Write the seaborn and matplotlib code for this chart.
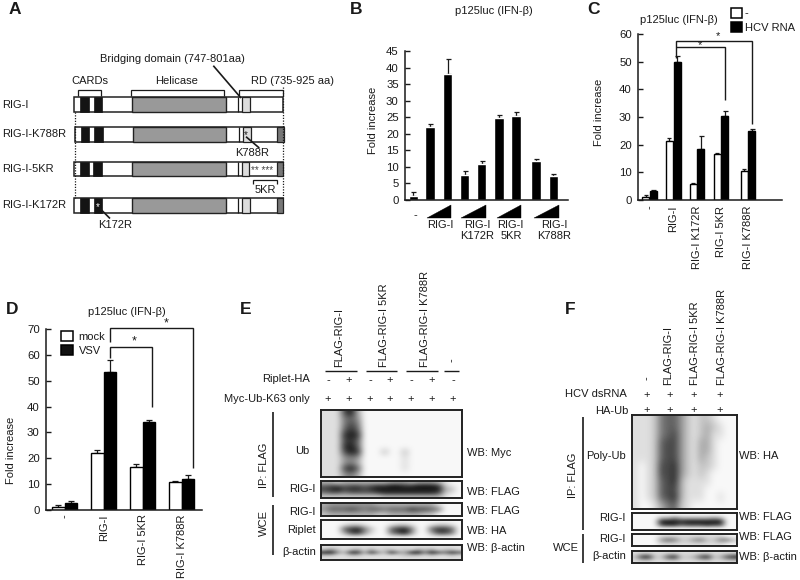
import numpy as np
import pandas as pd
import matplotlib
matplotlib.use("Agg")
import matplotlib.pyplot as plt
from matplotlib.patches import Rectangle, Polygon, Patch
import seaborn as sns

# ---------- data ----------
b_pos = [0, 0.98, 2.01, 3.0, 4.0, 5.0, 6.0, 7.17, 8.18]
b_vals = [1.2, 22, 38.2, 7.5, 11, 24.8, 25.4, 11.7, 7.2]
b_tops = [2.4, 22.9, 42.7, 8.9, 11.9, 25.6, 26.6, 12.4, 8.0]

c_labels = ["-", "RIG-I", "RIG-I K172R", "RIG-I 5KR", "RIG-I K788R"]
c_pos = [0, 1, 2, 3, 4.13]
c_white = [1.0, 21.5, 5.8, 16.5, 10.5]
c_white_top = [1.7, 22.4, 6.1, 17.1, 11.1]
c_black = [3.3, 50, 18.5, 30.2, 25]
c_black_top = [3.6, 52, 23, 32, 25.8]

d_labels = ["-", "RIG-I", "RIG-I 5KR", "RIG-I K788R"]
d_pos = [0, 1, 2, 3]
d_white = [1.0, 22, 16.5, 10.7]
d_white_top = [2.1, 23.3, 17.9, 11.2]
d_black = [2.7, 53.3, 34, 12]
d_black_top = [3.5, 58, 35, 13.5]

a_rows = ["RIG-I", "RIG-I-K788R", "RIG-I-5KR", "RIG-I-K172R"]

e_signs_riplet = ["-", "+", "-", "+", "-", "+", "-"]
e_signs_myc = ["+"] * 7

# blot darkness, one digit per cell
e_ub = ["111793000000000000000",
        "111564000000000000000",
        "111575000000000000000",
        "111686000000000000000",
        "111898000000000000000",
        "111786000000000000000",
        "111896000000000000000",
        "111798000200200000000",
        "111454000000100000000",
        "111453000000100000000",
        "111796000000100000000",
        "111453000000000000000"]
e_rig = ["332333333344434443100",
         "677677678899889998210",
         "789788789999999999320",
         "566566667888888887210",
         "222222222333333333100"]
e_wce = ["344444443333333331000",
         "466676566566687765000",
         "233333332233333220000"]
e_riplet = ["000000000000000000000",
            "000122100012210012210",
            "000689520068950068860",
            "000378410057940037750",
            "000000000000000000000"]
e_actin = ["111111111111111111111",
           "242123131221213231221",
           "894288284284389496586",
           "221122111111222121121",
           "111111111111111111111"]
f_ub = ["1112566421221000",
        "1112566421232100",
        "1112567421231100",
        "1112677421331000",
        "1112677421331000",
        "1112677421321000",
        "1012778421221000",
        "1012778421210000",
        "1012678311110000",
        "1012677311100000",
        "1012678311100100",
        "1001356210000000"]
f_rig = ["0000000000000000",
         "0000335333334300",
         "0000999899999900",
         "0000788677787700",
         "0000000000000000"]
f_wce = ["0000111111111100",
         "0000465224522552",
         "0000111111111100"]
f_actin = ["1111111111111111",
           "2892279223792379",
           "1111111111111111"]

# ---------- helpers ----------
sns.set_style("ticks")
plt.rcParams["font.family"] = ["Liberation Sans", "DejaVu Sans"]
FS = 8.0
INK = "#1a1a1a"
plt.rcParams["text.color"] = INK
fig = plt.figure(figsize=(8, 5.8), dpi=100)


def px_axes(l, t, r, b, **kw):
    return fig.add_axes([l / 800, 1 - b / 580, (r - l) / 800, (b - t) / 580], **kw)


def style_bars(ax, ymax, step, l, r, x_min, x_max, ylabel_x, ylabel_y, top, bot):
    ax.set_ylim(0, ymax)
    ax.set_xlim(x_min, x_max)
    ax.set_yticks(np.arange(0, ymax + 1, step))
    ax.tick_params(axis="y", direction="in", length=3.5, width=1, pad=4.5,
                   labelsize=FS + 0.2, color=INK, labelcolor=INK)
    ax.tick_params(axis="x", length=0)
    sns.despine(ax=ax)
    for s in ("left", "bottom"):
        ax.spines[s].set_linewidth(1.1)
        ax.spines[s].set_color(INK)
    ax.set_xlabel("")
    ax.set_ylabel("Fold increase", fontsize=FS, color=INK)
    ax.yaxis.set_label_coords((ylabel_x - l) / (r - l), (bot - ylabel_y) / (bot - top))


def upper_err(ax, container, tops, cap=1.8):
    for bar, top in zip(container, tops):
        cx = bar.get_x() + bar.get_width() / 2
        h = bar.get_height()
        ax.errorbar([cx], [h], yerr=[[0], [top - h]], color=INK, lw=0.9,
                    capsize=cap, capthick=0.9, zorder=1)


# ---------- panel B ----------
L, T, R, Bm = 405, 51, 568, 200
axB = px_axes(L, T, R, Bm)
df = pd.DataFrame({"x": b_pos, "y": b_vals})
sns.barplot(data=df, x="x", y="y", native_scale=True, color="black", width=0.56,
            errorbar=None, ax=axB, saturation=1, zorder=2)
style_bars(axB, 45, 5, L, R, -0.486, 9.04, 378, 120, T, Bm)
axB.set_xticks([])
upper_err(axB, axB.containers[0], b_tops)

# ---------- panel C ----------
L, T, R, Bm = 638, 34, 782, 200
axC = px_axes(L, T, R, Bm)
df = pd.DataFrame({"x": c_pos * 2, "y": c_white + c_black,
                   "s": ["-"] * 5 + ["HCV RNA"] * 5})
sns.barplot(data=df, x="x", y="y", hue="s", native_scale=True, width=0.64, gap=0.08,
            palette={"-": "white", "HCV RNA": "black"}, edgecolor="black", linewidth=1,
            errorbar=None, ax=axC, saturation=1, legend=False, zorder=2)
style_bars(axC, 60, 10, L, R, -0.475, 5.56, 604, 112, T, Bm)
axC.set_xticks(c_pos, c_labels, rotation=90, fontsize=FS, color=INK)
axC.tick_params(axis="x", pad=4)
upper_err(axC, axC.containers[0], c_white_top, cap=1.5)
upper_err(axC, axC.containers[1], c_black_top, cap=1.8)
fig.legend(handles=[Patch(fc="white", ec="black", lw=1.1, label="-"),
                    Patch(fc="black", ec="black", lw=1.1, label="HCV RNA")],
           loc="upper left", bbox_to_anchor=(730.5 / 800, 1 - 8 / 580), frameon=False,
           fontsize=FS, handlelength=1.05, handleheight=0.95, handletextpad=0.25,
           labelspacing=0.3, borderpad=0, borderaxespad=0)

# ---------- panel D ----------
L, T, R, Bm = 46, 329, 202, 510
axD = px_axes(L, T, R, Bm)
df = pd.DataFrame({"x": d_pos * 2, "y": d_white + d_black,
                   "s": ["mock"] * 4 + ["VSV"] * 4})
sns.barplot(data=df, x="x", y="y", hue="s", native_scale=True, width=0.65, gap=0,
            palette={"mock": "white", "VSV": "black"}, edgecolor="black", linewidth=1,
            errorbar=None, ax=axD, saturation=1, legend=False, zorder=2)
style_bars(axD, 70, 10, L, R, -0.48, 3.52, 16, 450, T, Bm)
axD.set_xticks(d_pos, d_labels, rotation=90, fontsize=FS, color=INK)
axD.tick_params(axis="x", pad=3)
upper_err(axD, axD.containers[0], d_white_top, cap=2.5)
upper_err(axD, axD.containers[1], d_black_top, cap=2.5)
fig.legend(handles=[Patch(fc="white", ec="black", lw=1.1, label="mock"),
                    Patch(fc="#111111", ec="black", lw=1.1, label="VSV")],
           loc="upper left", bbox_to_anchor=(61 / 800, 1 - 331 / 580), frameon=False,
           fontsize=FS, handlelength=1.05, handleheight=0.95, handletextpad=0.55,
           labelspacing=0.3, borderpad=0, borderaxespad=0)


# ---------- blots ----------
def blot(l, t, r, b, rows):
    ax = px_axes(l, t, r, b)
    grid = np.array([[int(c) for c in row] for row in rows], dtype=float)
    ax.imshow(grid, cmap="gray_r", vmin=-0.3, vmax=10, aspect="auto",
              interpolation="bicubic")
    ax.set_xticks([])
    ax.set_yticks([])
    for s in ax.spines.values():
        s.set_linewidth(1.4)
        s.set_color("#222222")
    return ax


blot(321, 410, 462, 477, e_ub)
blot(321, 481, 462, 498, e_rig)
blot(321, 503, 462, 516, e_wce)
blot(321, 520, 462, 539, e_riplet)
blot(321, 545, 462, 560, e_actin)
blot(632, 415, 737, 509, f_ub)
blot(632, 513, 737, 530, f_rig)
blot(632, 534, 737, 546, f_wce)
blot(632, 551, 737, 563, f_actin)

# ---------- overlay in pixel space ----------
ov = fig.add_axes([0, 0, 1, 1], zorder=10)
ov.set_xlim(0, 800)
ov.set_ylim(580, 0)
ov.axis("off")
ov.patch.set_alpha(0)


def T_(x, y, s, ha="left", va="center", rot=0, fs=FS, **kw):
    ov.text(x, y, s, ha=ha, va=va, rotation=rot, fontsize=fs, **kw)


def line(xs, ys, lw=1.0, c=INK, **kw):
    ov.plot(xs, ys, color=c, lw=lw, solid_capstyle="butt", solid_joinstyle="miter", **kw)


# panel letters
for x, y, s in [(9, 10, "A"), (350, 9, "B"), (587, 10, "C"),
                (6, 310, "D"), (240, 310, "E"), (565, 310, "F")]:
    T_(x, y, s, fs=12.5, fontweight="bold")

# titles
T_(494, 11, "p125luc (IFN-β)", ha="center")
T_(679, 20, "p125luc (IFN-β)", ha="center")
T_(127, 312, "p125luc (IFN-β)", ha="center")

# panel A
a_y = [(97.3, 111.7), (126.7, 141.7), (161.7, 176), (198, 212.7)]
a_x = [(74, 283), (75, 284), (73.7, 283), (74, 283)]
a_black = [[(80.3, 89), (94, 102.3)], [(80.7, 89), (94.3, 103)],
           [(80.3, 88.7), (93, 101.7)], [(80.3, 88.7), (94, 102)]]
a_gray = [(132.3, 225.7), (133, 226), (132, 225.7), (132.3, 225.7)]
a_lines = [(238, 241.3), (238.7, 242), (238, 241), (238.3, 241.7)]
a_light = [(242, 250), (242.7, 250.7), (241.7, 249.3), (242.3, 250)]
a_dark = [None, (277.3, 284), (276.7, 283), (277, 283)]
for i, name in enumerate(a_rows):
    y0, y1 = a_y[i]
    x0, x1 = a_x[i]
    h = y1 - y0
    ov.add_patch(Rectangle((x0, y0), x1 - x0, h, fc="white", ec="#222222", lw=1.1))
    for s0, s1 in a_black[i]:
        ov.add_patch(Rectangle((s0, y0), s1 - s0, h, fc="#141414", ec="#141414", lw=0.5))
    ov.add_patch(Rectangle((a_gray[i][0], y0), a_gray[i][1] - a_gray[i][0], h,
                           fc="#999999", ec="#222222", lw=1))
    ov.add_patch(Rectangle((a_light[i][0], y0), a_light[i][1] - a_light[i][0], h,
                           fc="#dddddd", ec="#222222", lw=0.9))
    line([a_lines[i][0]] * 2, [y0, y1], lw=0.9)
    if a_dark[i]:
        ov.add_patch(Rectangle((a_dark[i][0], y0), a_dark[i][1] - a_dark[i][0], h,
                               fc="#777777", ec="#222222", lw=0.9))
    T_(2.5, (y0 + y1) / 2, name)
line([74.7, 74.7], [112, 198], lw=0.9, linestyle=(0, (1, 1.2)))
line([282.7, 282.7], [87, 198], lw=0.9, linestyle=(0, (1, 1.2)))
for x0, x1 in [(78.3, 101.3), (131, 224), (238.7, 282.7)]:
    line([x0, x0, x1, x1], [96, 89.5, 89.5, 96], lw=0.9)
T_(90, 80.5, "CARDs", ha="center")
T_(176.7, 80.5, "Helicase", ha="center")
T_(250.7, 80.5, "RD (735-925 aa)")
T_(172.5, 58.5, "Bridging domain (747-801aa)", ha="center")
line([213.3, 241], [65.7, 98], lw=1.2)
T_(252, 153.5, "K788R", ha="center")
line([246, 259.3], [136.7, 148], lw=1.2)
T_(246, 135.5, "*", ha="center", fs=7)
T_(265, 190, "5KR", ha="center")
line([253.3, 253.3, 276.7, 276.7], [183.5, 180, 180, 183.5], lw=0.9)
T_(262, 171, "** ***", ha="center", fs=7, color="#444444")
T_(115, 225.5, "K172R", ha="center")
line([100, 110], [208.5, 218.5], lw=1.2)
T_(97.7, 207, "*", ha="center", fs=7, color="white")

# panel B annotations
for x0, x1 in [(427, 451), (461, 486), (497, 521), (534, 559)]:
    ov.add_patch(Polygon([(x0, 218), (x1, 218), (x1, 205)], fc="black", ec="black", lw=0.3))
T_(415, 215, "-", ha="center")
T_(440, 225, "RIG-I", ha="center")
T_(477, 225, "RIG-I", ha="center")
T_(477, 236, "K172R", ha="center")
T_(510, 225, "RIG-I", ha="center")
T_(501, 236, "5KR")
T_(554, 225, "RIG-I", ha="center")
T_(554, 236, "K788R", ha="center")

# panel C brackets
line([676, 676, 751.7, 751.7], [58, 40.7, 40.7, 123.5], lw=1.0)
line([676, 725, 725], [46.7, 46.7, 100], lw=1.0)
T_(718, 36, "*", ha="center", fs=8)
T_(699.5, 45, "*", ha="center", fs=8)

# panel D brackets
line([110, 110, 192.7, 192.7], [341.7, 328.3, 328.3, 467.7], lw=1.0)
line([110, 110, 151.7, 151.7], [358, 347.3, 347.3, 406.7], lw=1.0)
T_(165.7, 323.5, "*", ha="center", fs=9)
T_(134, 341.5, "*", ha="center", fs=9)

# panel E labels
T_(339, 367, "FLAG-RIG-I", ha="center", va="bottom", rot=90)
T_(384, 367, "FLAG-RIG-I 5KR", ha="center", va="bottom", rot=90)
T_(425, 367, "FLAG-RIG-I K788R", ha="center", va="bottom", rot=90)
T_(452, 360, "-", ha="center", rot=90)
for x0, x1 in [(325, 357), (366, 397), (406, 438), (444, 459)]:
    line([x0, x1], [371, 371], lw=1.0)
T_(310, 379, "Riplet-HA", ha="right")
T_(310, 399, "Myc-Ub-K63 only", ha="right")
e_lanes = [328, 349, 370, 390, 411, 432, 453]
for x, a, b_ in zip(e_lanes, e_signs_riplet, e_signs_myc):
    T_(x, 380, a, ha="center")
    T_(x, 399, b_, ha="center")
T_(264, 465, "IP: FLAG", ha="center", rot=90)
T_(264, 523, "WCE", ha="center", rot=90)
line([273, 273], [412, 497], lw=1.2)
line([273, 273], [505, 555], lw=1.2)
for y, s in [(451, "Ub"), (489, "RIG-I"), (512, "RIG-I"), (530, "Riplet"), (552, "β-actin")]:
    T_(309 if s == "Ub" else 316, y, s, ha="right")
for y, s in [(453, "WB: Myc"), (492, "WB: FLAG"), (511, "WB: FLAG"),
             (531, "WB: HA"), (548, "WB: β-actin")]:
    T_(467, y, s)

# panel F labels
T_(647, 378, "-", ha="center", rot=90)
T_(668, 385, "FLAG-RIG-I", ha="center", va="bottom", rot=90)
T_(695, 385, "FLAG-RIG-I 5KR", ha="center", va="bottom", rot=90)
T_(722, 385, "FLAG-RIG-I K788R", ha="center", va="bottom", rot=90)
T_(627, 394, "HCV dsRNA", ha="right")
T_(628, 411, "HA-Ub", ha="right")
for x in [647, 670, 694, 720]:
    T_(x, 395, "+", ha="center")
    T_(x, 410, "+", ha="center")
T_(573, 475, "IP: FLAG", ha="center", rot=90)
T_(566, 548, "WCE", ha="center")
line([583, 583], [417, 530], lw=1.2)
line([583, 583], [534, 563], lw=1.2)
for y, s in [(456, "Poly-Ub"), (518, "RIG-I"), (539, "RIG-I"), (556, "β-actin")]:
    T_(626, y, s, ha="right")
for y, s in [(456, "WB: HA"), (517, "WB: FLAG"), (537, "WB: FLAG"), (557, "WB: β-actin")]:
    T_(739, y, s)

fig.savefig("out.png", dpi=100)
